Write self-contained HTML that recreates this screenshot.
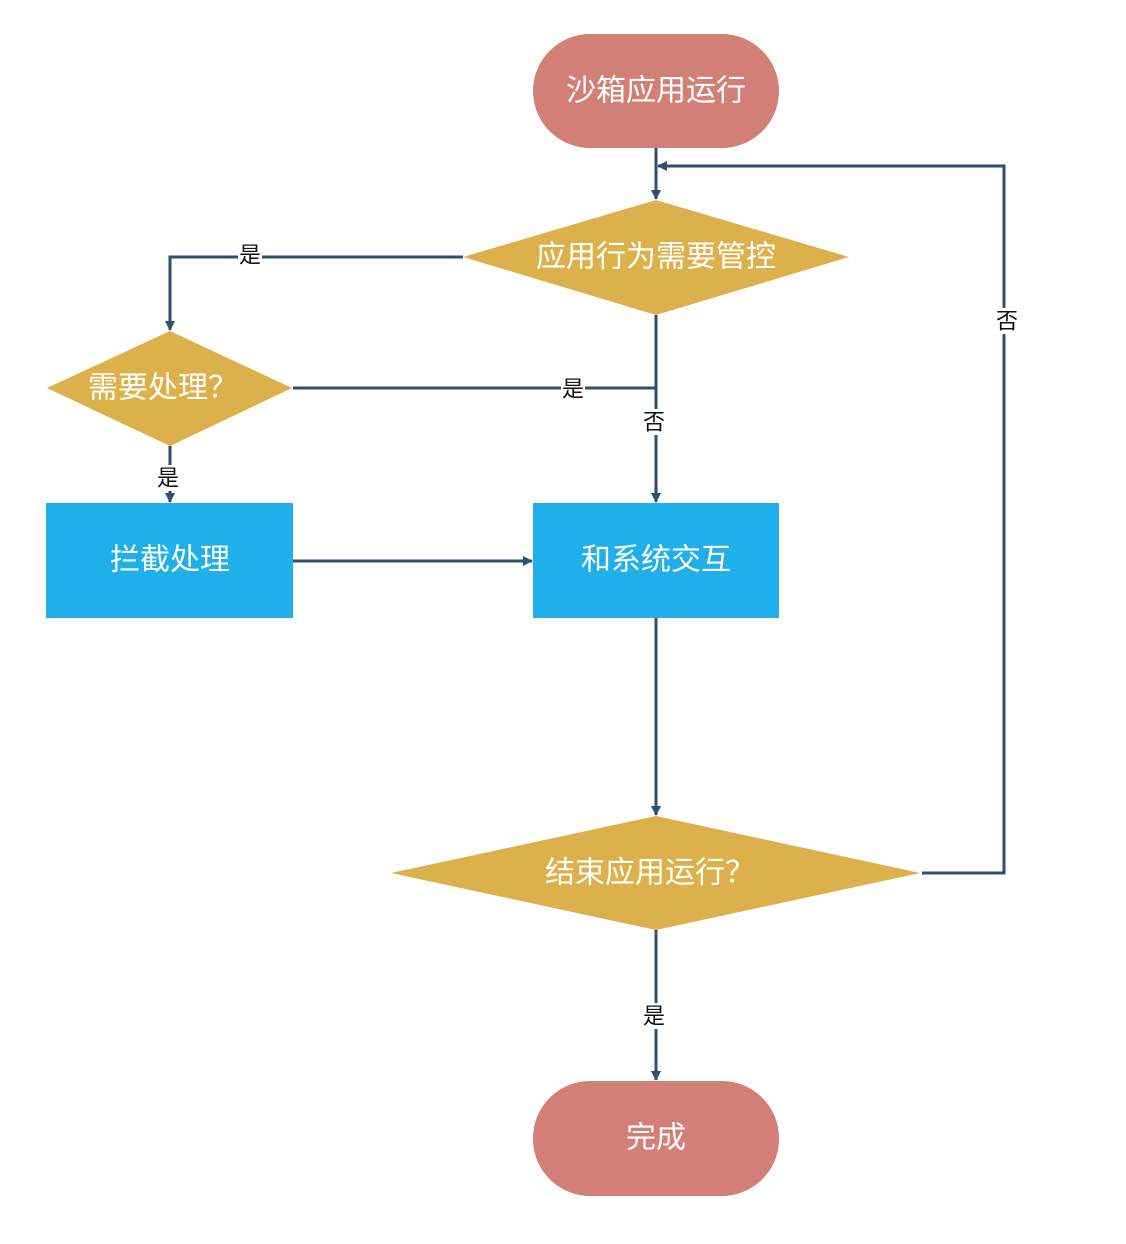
<!DOCTYPE html>
<html><head><meta charset="utf-8"><style>
html,body{margin:0;padding:0;background:#fff;}
svg{display:block;}
.n{font-family:"Liberation Sans","Noto Sans CJK SC",sans-serif;font-size:30px;fill:#fff;text-anchor:middle;dominant-baseline:central;}
.l{font-family:"Liberation Sans","Noto Sans CJK SC",sans-serif;font-size:22px;fill:#111;text-anchor:middle;dominant-baseline:central;}
.c{stroke:#2F4F70;stroke-width:3;fill:none;}
</style></head><body>
<svg width="1126" height="1244" viewBox="0 0 1126 1244" xmlns="http://www.w3.org/2000/svg">
<defs>
<marker id="a" markerWidth="10" markerHeight="10" refX="9" refY="5" orient="auto" markerUnits="userSpaceOnUse" viewBox="0 0 10 10"><path d="M0,0 L10,5 L0,10 z" fill="#2F4F70"/></marker>
</defs>
<!-- nodes -->
<rect x="533" y="34" width="246" height="114" rx="57" fill="#D27F78"/>
<text class="n" x="656" y="91">沙箱应用运行</text>
<polygon points="463,257 656,200 849,257 656,315" fill="#DCB04A"/>
<text class="n" x="656" y="257">应用行为需要管控</text>
<polygon points="47,388 170,331 292,388 170,446" fill="#DCB04A"/>
<text class="n" x="163" y="388">需要处理？</text>
<rect x="46" y="503" width="247" height="115" fill="#1FB0EC"/>
<text class="n" x="170" y="560">拦截处理</text>
<rect x="533" y="503" width="246" height="115" fill="#1FB0EC"/>
<text class="n" x="656" y="560">和系统交互</text>
<polygon points="391,873 656,816 920,873 656,930" fill="#DCB04A"/>
<text class="n" x="650" y="873">结束应用运行？</text>
<rect x="533" y="1081" width="246" height="115" rx="57" fill="#D27F78"/>
<text class="n" x="656" y="1138">完成</text>
<!-- connectors -->
<path class="c" d="M656,148 L656,199" marker-end="url(#a)"/>
<path class="c" d="M922,873 L1004,873 L1004,166 L658,166" marker-end="url(#a)"/>
<path class="c" d="M463,257 L170,257 L170,330" marker-end="url(#a)"/>
<path class="c" d="M656,315 L656,502" marker-end="url(#a)"/>
<path class="c" d="M293,388 L656,388"/>
<path class="c" d="M170,446 L170,502" marker-end="url(#a)"/>
<path class="c" d="M293,561 L532,561" marker-end="url(#a)"/>
<path class="c" d="M656,618 L656,815" marker-end="url(#a)"/>
<path class="c" d="M656,930 L656,1080" marker-end="url(#a)"/>
<!-- labels -->
<rect x="995" y="308" width="24" height="26" fill="#fff"/><text class="l" x="1007" y="321">否</text>
<rect x="238" y="242" width="24" height="26" fill="#fff"/><text class="l" x="250" y="255">是</text>
<rect x="642" y="409" width="24" height="26" fill="#fff"/><text class="l" x="654" y="422">否</text>
<rect x="561" y="376" width="24" height="26" fill="#fff"/><text class="l" x="573" y="389">是</text>
<rect x="156" y="465" width="24" height="26" fill="#fff"/><text class="l" x="168" y="478">是</text>
<rect x="642" y="1003" width="24" height="26" fill="#fff"/><text class="l" x="654" y="1016">是</text>
</svg>
</body></html>
